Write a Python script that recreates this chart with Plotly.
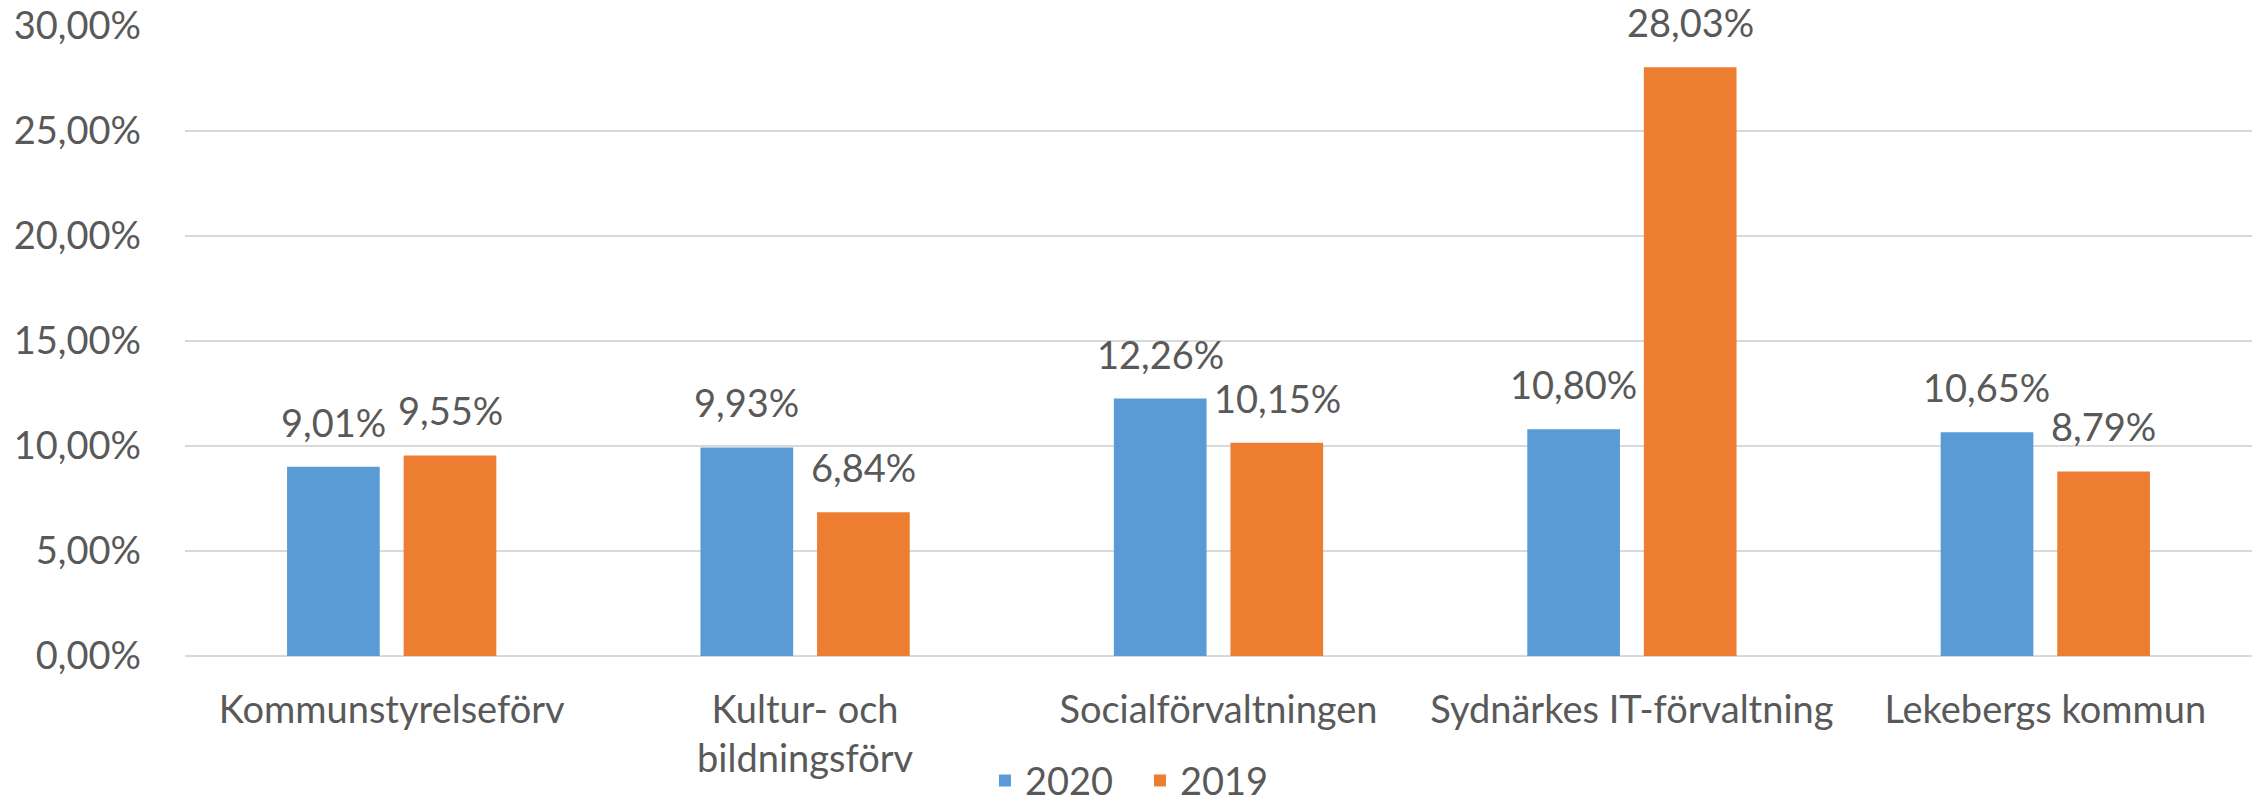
import plotly.graph_objects as go

categories = ["Kommunstyrelseförv", "Kultur- och<br>bildningsförv", "Socialförvaltningen",
              "Sydnärkes IT-förvaltning", "Lekebergs kommun"]
series_names = ["2020", "2019"]
values_2020 = [0.0901, 0.0993, 0.1226, 0.1080, 0.1065]
values_2019 = [0.0955, 0.0684, 0.1015, 0.2803, 0.0879]
y_ticks = [0, 0.05, 0.10, 0.15, 0.20, 0.25, 0.30]

colors = ["#5B9BD5", "#ED7D31"]
FONT = "Lato"
TXT = "#595959"
FS = 38

fig = go.Figure()
for name, vals, col in zip(series_names, [values_2020, values_2019], colors):
    fig.add_trace(go.Bar(
        x=categories, y=vals, name=name,
        marker=dict(color=col, line=dict(width=0)),
        hoverinfo="skip",
    ))

def fmt(v):
    return f"{v*100:.2f}%".replace(".", ",")

annotations = []
for i, (vals, xs) in enumerate(zip([values_2020, values_2019], [-58.5, 58.5])):
    for c, v in zip(categories, vals):
        annotations.append(dict(
            x=c, y=v, xref="x", yref="y", text=fmt(v), showarrow=False,
            xanchor="center", yanchor="bottom", xshift=xs, yshift=20,
            font=dict(family=FONT, size=FS, color=TXT),
        ))

fig.update_layout(
    width=2262, height=799,
    margin=dict(l=177, r=18, t=18, b=151, autoexpand=False),
    paper_bgcolor="white", plot_bgcolor="white",
    separators=", ",
    font=dict(family=FONT, size=FS, color=TXT),
    barmode="group", bargap=0.436, bargroupgap=0.205,
    showlegend=True,
    legend=dict(orientation="h", x=0.462, xanchor="center", y=-0.198, yanchor="middle",
                font=dict(family=FONT, size=FS, color=TXT), itemwidth=30,
                entrywidth=110, bgcolor="rgba(0,0,0,0)"),
    annotations=annotations,
)
fig.update_yaxes(range=[0, 0.30], tickvals=y_ticks, tickformat=".2%",
                 showgrid=True, gridcolor="#D9D9D9", gridwidth=2,
                 zeroline=True, zerolinecolor="#D9D9D9", zerolinewidth=2,
                 showline=False, ticks="", ticklabelstandoff=43, automargin=False,
                 ticklabeloverflow="allow",
                 tickfont=dict(family=FONT, size=FS, color=TXT), fixedrange=True)
fig.update_xaxes(showgrid=False, showline=False, ticks="", ticklabelstandoff=28,
                 automargin=False, ticklabeloverflow="allow",
                 tickfont=dict(family=FONT, size=FS, color=TXT), fixedrange=True)

fig.write_html("out.html", config={"displayModeBar": False})
